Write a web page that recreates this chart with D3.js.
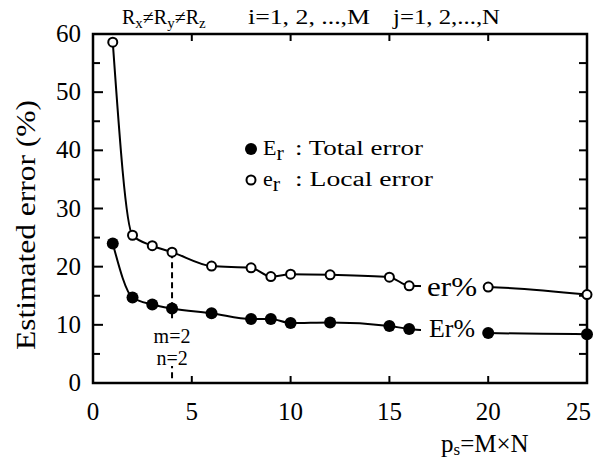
<!DOCTYPE html>
<html><head><meta charset="utf-8">
<script src="https://cdn.jsdelivr.net/npm/d3@7"></script>
<style>body{margin:0;background:#fff}svg{display:block}svg text{font-family:"Liberation Serif",Tinos,"Times New Roman",serif;fill:#000}</style>
</head><body><svg id="c" width="593" height="463"></svg>
<script>
const psValues = [1, 2, 3, 4, 6, 8, 9, 10, 12, 15, 16, 20, 25];
const localError = [58.6, 25.4, 23.6, 22.5, 20.1, 19.8, 18.3, 18.7, 18.6, 18.2, 16.7, 16.5, 15.2];
const totalError = [24.0, 14.7, 13.5, 12.8, 12.0, 11.0, 11.0, 10.3, 10.4, 9.8, 9.3, 8.6, 8.4];
const xTicks = [0, 5, 10, 15, 20, 25];
const yTicks = [0, 10, 20, 30, 40, 50, 60];
const markedPs = 4;

const svg = d3.select("#c");
const L = 93, R = 587, T = 34, B = 383;
const x = d3.scaleLinear().domain([0, 25]).range([L, R]);
const y = d3.scaleLinear().domain([0, 60]).range([B, T]);

// frame
svg.append("rect").attr("x", L).attr("y", T).attr("width", R - L).attr("height", B - T)
  .attr("fill", "none").attr("stroke", "#000").attr("stroke-width", 2.5);

// ticks
const g = svg.append("g").attr("stroke", "#000").attr("stroke-width", 2);
d3.range(5, 60, 5).forEach(v => {
  const len = v % 10 === 0 ? 10 : 7;
  g.append("line").attr("x1", L).attr("x2", L + len).attr("y1", y(v)).attr("y2", y(v));
  g.append("line").attr("x1", R).attr("x2", R - 8).attr("y1", y(v)).attr("y2", y(v));
});
[5, 10, 15, 20].forEach(v => {
  g.append("line").attr("x1", x(v)).attr("x2", x(v)).attr("y1", B).attr("y2", B - 7);
  g.append("line").attr("x1", x(v)).attr("x2", x(v)).attr("y1", T).attr("y2", T + 7);
});

// tick labels
svg.append("g").selectAll("text").data(xTicks).join("text")
  .attr("x", d => d === 25 ? 591 : x(d)).attr("y", 420)
  .attr("text-anchor", d => d === 25 ? "end" : "middle")
  .attr("font-size", 25).text(d => d);
svg.append("g").selectAll("text").data(yTicks).join("text")
  .attr("x", 81).attr("y", d => y(d) + 8).attr("text-anchor", "end")
  .attr("font-size", 25).text(d => d);

// axis titles
svg.append("text").attr("transform", "translate(35,225) rotate(-90)")
  .attr("text-anchor", "middle").attr("font-size", 27)
  .attr("textLength", 250).attr("lengthAdjust", "spacingAndGlyphs")
  .text("Estimated error (%)");
const xl = svg.append("text").attr("x", 441).attr("y", 452).attr("font-size", 25);
xl.append("tspan").text("p");
xl.append("tspan").attr("font-size", 17).attr("dy", 3).text("s");
xl.append("tspan").attr("dy", -3).text("=M×N");

// title
const t1 = svg.append("text").attr("x", 122).attr("y", 24).attr("font-size", 20);
[["R",0],["x",1],["≠R",0],["y",1],["≠R",0],["z",1]].forEach(([s, sub], i, arr) => {
  const prev = i > 0 ? arr[i-1][1] : 0;
  t1.append("tspan").attr("font-size", sub ? 15 : 20).attr("dy", (sub - prev) * 4).text(s);
});
svg.append("text").attr("x", 248).attr("y", 24).attr("font-size", 20)
  .attr("textLength", 122).attr("lengthAdjust", "spacingAndGlyphs").text("i=1, 2, ...,M");
svg.append("text").attr("x", 393).attr("y", 24).attr("font-size", 20)
  .attr("textLength", 107).attr("lengthAdjust", "spacingAndGlyphs").text("j=1, 2,...,N");

// curves
const line = d3.line().x(d => x(d[0])).y(d => y(d[1])).curve(d3.curveMonotoneX);
const erPts = psValues.map((p, i) => [p, localError[i]]);
const ErPts = psValues.map((p, i) => [p, totalError[i]]);
[erPts, ErPts].forEach(pts => svg.append("path").attr("d", line(pts))
  .attr("fill", "none").attr("stroke", "#000").attr("stroke-width", 2));

// dashed marker line
const mi = psValues.indexOf(markedPs);
svg.append("line").attr("x1", x(markedPs)).attr("x2", x(markedPs))
  .attr("y1", y(localError[mi])).attr("y2", B)
  .attr("stroke", "#000").attr("stroke-width", 2).attr("stroke-dasharray", "6,4");
svg.append("rect").attr("x", 155).attr("y", 322).attr("width", 40).attr("height", 44).attr("fill", "#fff");
svg.append("text").attr("x", x(markedPs)).attr("y", 343).attr("text-anchor", "middle").attr("font-size", 20).text("m=2");
svg.append("text").attr("x", x(markedPs)).attr("y", 365).attr("text-anchor", "middle").attr("font-size", 20).text("n=2");

// inline labels
svg.append("rect").attr("x", 421).attr("y", 272).attr("width", 62).attr("height", 70).attr("fill", "#fff");
svg.append("text").attr("x", 427).attr("y", 296).attr("font-size", 28)
  .attr("textLength", 50).attr("lengthAdjust", "spacingAndGlyphs").text("er%");
svg.append("text").attr("x", 429).attr("y", 337).attr("font-size", 26)
  .attr("textLength", 46).attr("lengthAdjust", "spacingAndGlyphs").text("Er%");

// markers
svg.append("g").selectAll("circle").data(ErPts).join("circle")
  .attr("cx", d => x(d[0])).attr("cy", d => y(d[1])).attr("r", 6).attr("fill", "#000");
svg.append("g").selectAll("circle").data(erPts).join("circle")
  .attr("cx", d => x(d[0])).attr("cy", d => y(d[1])).attr("r", 4.5)
  .attr("fill", "#fff").attr("stroke", "#000").attr("stroke-width", 2);

// legend
svg.append("circle").attr("cx", 251).attr("cy", 149).attr("r", 6).attr("fill", "#000");
svg.append("circle").attr("cx", 251).attr("cy", 180).attr("r", 4.5).attr("fill", "#fff")
  .attr("stroke", "#000").attr("stroke-width", 2);
const l1 = svg.append("text").attr("x", 263).attr("y", 155).attr("font-size", 22);
l1.append("tspan").text("E");
l1.append("tspan").attr("dy", 5).text("r");
svg.append("text").attr("x", 295).attr("y", 155).attr("font-size", 20)
  .attr("textLength", 128).attr("lengthAdjust", "spacingAndGlyphs").text(": Total error");
const l2 = svg.append("text").attr("x", 263).attr("y", 186).attr("font-size", 22);
l2.append("tspan").text("e");
l2.append("tspan").attr("dy", 5).text("r");
svg.append("text").attr("x", 295).attr("y", 186).attr("font-size", 20)
  .attr("textLength", 138).attr("lengthAdjust", "spacingAndGlyphs").text(": Local error");
</script></body></html>
